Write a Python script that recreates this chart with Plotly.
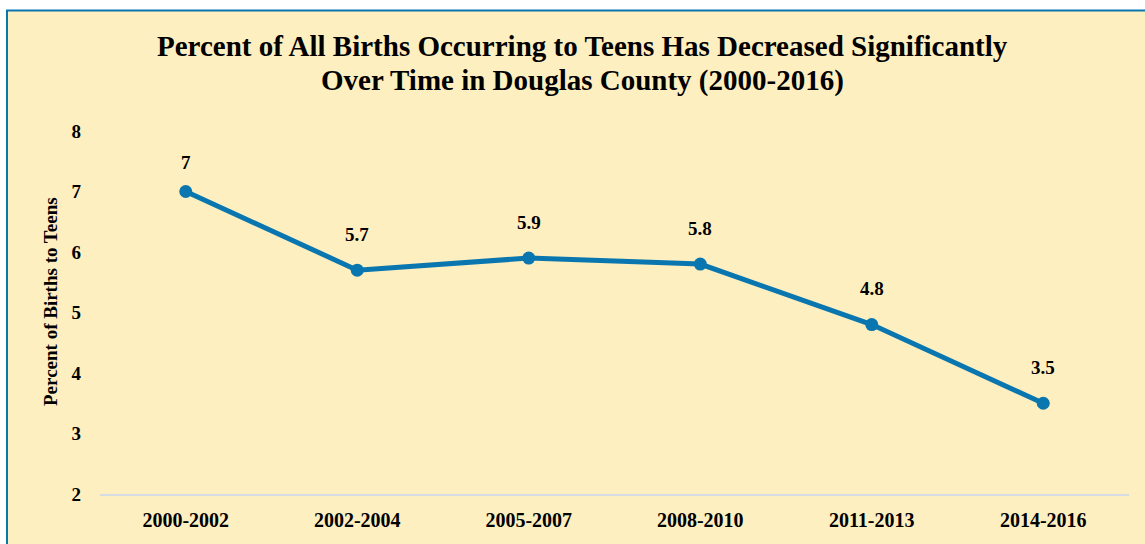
import plotly.graph_objects as go

periods = ["2000-2002", "2002-2004", "2005-2007", "2008-2010", "2011-2013", "2014-2016"]
teen_birth_pct = [7, 5.7, 5.9, 5.8, 4.8, 3.5]
y_ticks = [2, 3, 4, 5, 6, 7, 8]

title_lines = ["Percent of All Births Occurring to Teens Has Decreased Significantly",
               "Over Time in Douglas County (2000-2016)"]
y_title = "Percent of Births to Teens"

W, H = 1145, 544
L, R, T, B = 100, 16, 131, 50
FONT = "Liberation Serif"
LINE = "#0A76B0"
BG = "#FDEFC0"

fig = go.Figure()
fig.add_trace(go.Scatter(
    x=periods, y=teen_birth_pct, mode="lines+markers",
    line=dict(color=LINE, width=5),
    marker=dict(color=LINE, size=13),
    hoverinfo="x+y", showlegend=False,
))

label_shift = [29] + [36] * (len(periods) - 1)
for p, v, s in zip(periods, teen_birth_pct, label_shift):
    fig.add_annotation(x=p, y=v, text=f"{v:g}", showarrow=False,
                       yshift=s, font=dict(family=FONT, size=19, color="#000", weight="bold"))

pw = W - L - R
ph = H - T - B
def px_x(v):
    return (v - L) / pw
def px_y(v):
    return (H - B - v) / ph

fig.add_shape(type="rect", xref="paper", yref="paper",
              x0=px_x(7), x1=px_x(1160), y0=px_y(560), y1=px_y(10.5),
              fillcolor=BG, line=dict(color=LINE, width=2), layer="below")

for line_text, cy in zip(title_lines, [46, 80]):
    fig.add_annotation(xref="paper", yref="paper", x=px_x(582), y=px_y(cy),
                       xanchor="center", yanchor="middle", showarrow=False,
                       text=line_text,
                       font=dict(family=FONT, size=29, color="#000", weight="bold"))

fig.add_annotation(xref="paper", yref="paper", x=px_x(50), y=px_y(302),
                   xanchor="center", yanchor="middle", showarrow=False,
                   textangle=-90, text=y_title,
                   font=dict(family=FONT, size=19, color="#000", weight="bold"))

fig.update_layout(
    width=W, height=H,
    margin=dict(l=L, r=R, t=T, b=B, pad=0, autoexpand=False),
    paper_bgcolor="white", plot_bgcolor="rgba(0,0,0,0)",
    xaxis=dict(type="category", range=[-0.5, len(periods) - 0.5], automargin=False,
               showgrid=False, showline=True, linecolor="#D5DCE4", linewidth=2,
               ticks="", ticklabelstandoff=7, zeroline=False,
               tickfont=dict(family=FONT, size=20, color="#000", weight="bold")),
    yaxis=dict(range=[2, 8], tickvals=y_ticks, showgrid=False, showline=False,
               automargin=False,
               zeroline=False, ticks="", ticklabelstandoff=18,
               tickfont=dict(family=FONT, size=19, color="#000", weight="bold")),
)

fig.write_html("out.html", config={"displayModeBar": False},
               post_script="document.body.style.margin='0';")
